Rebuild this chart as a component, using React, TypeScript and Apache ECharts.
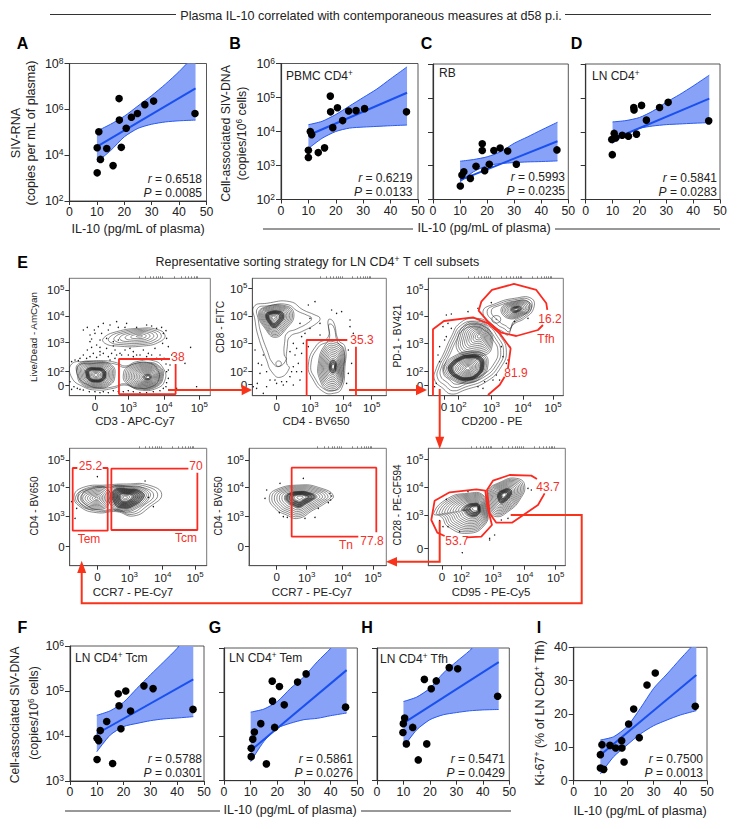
import React, { useEffect, useRef } from "react";
import * as echarts from "echarts";

const FONT = '"Liberation Sans", Arial, sans-serif';
const RED = "#fb2a20";
const ARROW = "#f8331a";
const BLUE = "#1a50ee";
const BAND = "#88a2f8";
const EDGE = "#2b5cf0";

// ---------- Correlation panels: IL-10 (pg/mL) vs. measures ----------
const il10A = [10.1, 10.1, 10.7, 11.3, 13.6, 15.9, 18.1, 18.2, 18.9, 20.7, 22.6, 24.8, 27.5, 30.7, 45.8];
const rnaA = [1700, 21000, 105000, 6500, 19500, 3500, 2950000, 340000, 22000, 150000, 450000, 660000, 1600000, 2300000, 660000];
const il10B = [10, 10, 10.7, 11.2, 13.6, 15.9, 18, 18.1, 18.9, 20.6, 22.5, 24.7, 27.4, 30.5, 45.8];
const dnaB = [1720, 2800, 10000, 8100, 2400, 3300, 110000, 38000, 13000, 50000, 21000, 40000, 41000, 47000, 38000];
const il10C = [10.1, 10.7, 11.4, 13.8, 15.9, 18.2, 18.2, 19.1, 20.8, 22.5, 24.8, 27.6, 30.8, 45.8];
const dnaC = [250, 525, 660, 420, 955, 4400, 2800, 710, 1100, 2800, 3300, 2700, 1100, 2900];
const il10D = [9.9, 9.7, 10.6, 11.2, 13.6, 15.9, 17.9, 18, 18.9, 20.8, 22.6, 27.5, 30.7, 45.8];
const dnaD = [2100, 5900, 8900, 6600, 7900, 7400, 52000, 44000, 8500, 60000, 22000, 52000, 74000, 21000];
const il10F = [10.1, 10.1, 10.7, 11.3, 13.7, 15.9, 18, 18.3, 19, 20.8, 22.6, 27.6, 31, 45.9];
const dnaF = [3000, 8900, 7900, 13200, 21000, 2450, 87000, 47000, 14500, 100000, 36000, 130000, 113000, 39000];
const il10G = [10.2, 10.2, 10.8, 11.4, 13.8, 15.9, 18.1, 18.2, 19, 20.8, 22.6, 27.6, 30.8, 45.6];
const dnaG = [3500, 5400, 8700, 12600, 19500, 2400, 178000, 63000, 16000, 135000, 52000, 170000, 260000, 46000];
const il10H = [9.8, 9.95, 10.45, 11.1, 13.5, 15.6, 17.9, 18.8, 20.5, 22.4, 27.3, 30.5, 45.6];
const dnaH = [12300, 19500, 26000, 6800, 16000, 2950, 195000, 6800, 120000, 180000, 360000, 340000, 81000];
const il10I = [10, 10, 10.6, 11.25, 13.6, 15.75, 18, 18.1, 18.9, 20.6, 22.5, 24.6, 27.5, 30.6, 45.6];
const ki67I = [3.8, 7.8, 10.8, 3.4, 10.6, 9.8, 12, 9.8, 5.6, 17, 21.5, 12.9, 28.7, 32.3, 22.3];

const bandX = [10, 15, 20, 25, 30, 35, 40, 46];
const upperA = [5.05, 5.35, 5.7, 6.15, 6.6, 7.1, 7.65, 8.4];
const lowerA = [3.7, 4.2, 4.8, 5.17, 5.35, 5.45, 5.5, 5.53];
const upperB = [4.2, 4.3, 4.5, 4.75, 5.0, 5.25, 5.55, 5.9];
const lowerB = [3.5, 3.8, 4.0, 4.1, 4.13, 4.15, 4.17, 4.19];
const upperC = [3.13, 3.18, 3.26, 3.41, 3.66, 3.85, 4.05, 4.28];
const lowerC = [2.52, 2.82, 3.0, 3.06, 3.09, 3.11, 3.12, 3.14];
const upperD = [4.29, 4.33, 4.42, 4.61, 4.87, 5.1, 5.35, 5.67];
const lowerD = [3.66, 3.93, 4.1, 4.17, 4.21, 4.23, 4.25, 4.27];
const upperF = [4.46, 4.56, 4.75, 5.06, 5.36, 5.65, 5.95, 6.4];
const lowerF = [3.65, 4.02, 4.21, 4.28, 4.34, 4.38, 4.4, 4.43];
const upperG = [4.55, 4.62, 4.79, 5.09, 5.35, 5.69, 5.99, 6.4];
const lowerG = [3.43, 3.89, 4.19, 4.3, 4.38, 4.41, 4.47, 4.53];
const upperH = [4.79, 4.89, 5.09, 5.43, 5.69, 5.94, 6.25, 6.7];
const lowerH = [3.76, 4.15, 4.38, 4.49, 4.54, 4.58, 4.6, 4.61];
const upperI = [12.2, 13.2, 16.2, 21.7, 27.7, 32, 36.5, 41.7];
const lowerI = [2, 7.2, 10.7, 14, 16.5, 18.2, 19.7, 21];

const fitA = [[10, 4.37], [46, 6.91]];
const fitB = [[10, 3.89], [46, 5.14]];
const fitC = [[10, 2.57], [46, 3.72]];
const fitD = [[10, 3.77], [46, 4.98]];
const fitF = [[10, 4.05], [46, 5.26]];
const fitG = [[10, 3.68], [46, 5.5]];
const fitH = [[10, 4.3], [46, 5.68]];
const fitI = [[10, 7.7], [46, 31.7]];

// ---------- Flow panels: all positions are display channels ----------
const dotsE1 = [[250,270],[262,262],[270,285],[283,270],[295,260],[300,300],[310,250],[330,255],[350,245],[355,262],[380,250],[410,262],[455,258],[470,265],[490,280],[500,295],[488,310],[465,325],[430,330],[400,335],[375,330],[345,330],[320,325],[300,335],[280,340],[262,330],[250,345],[235,362],[260,355],[290,352],[325,350],[335,340],[365,345],[445,340],[480,345],[505,320],[492,355],[515,345],[510,375],[500,395],[505,415],[498,440],[480,452],[440,458],[400,455],[370,455],[340,452],[310,455],[285,455],[250,450],[232,445],[215,448],[205,437],[572,322],[555,370],[590,440],[530,445],[275,297],[320,295],[340,305],[215,365],[225,360],[205,370],[270,305],[290,315],[355,300],[390,325],[420,345],[455,345],[470,355],[330,360],[345,355],[360,340],[385,345],[310,340],[240,355],[270,350],[300,345],[350,345],[400,350],[440,350],[485,360],[498,372],[505,390],[500,428],[490,445],[460,455],[420,458],[385,452],[355,455],[325,458],[300,458],[268,455],[240,448],[222,440],[210,425],[285,280],[305,280],[325,270],[375,262],[440,255],[485,262],[498,272],[340,318],[300,322],[275,322],[410,345]];
const dotsE2 = [[925,195],[945,185],[995,210],[1010,220],[960,250],[930,265],[905,290],[880,310],[885,345],[895,370],[890,395],[900,420],[905,340],[915,280],[925,320],[1050,260],[1060,280],[1045,330],[1055,370],[1045,400],[1040,430],[1050,240],[830,430],[800,440],[790,460],[775,370],[780,400],[790,345],[765,330],[772,430],[870,410],[860,425],[880,435],[810,420],[850,435],[1025,215],[960,285],[930,235],[770,445],[760,440],[880,380],[905,395],[900,250],[845,425],[825,420],[800,395],[785,375],[875,395],[870,335],[890,325],[910,310]];
const dotsE3 = [[235,225],[250,222],[300,215],[330,205],[370,188],[440,245],[480,235],[425,320],[400,320],[250,265],[235,290],[230,300],[215,320],[210,345],[200,440],[205,430],[175,440],[385,405],[350,425],[345,445],[330,440],[395,420],[225,260],[240,250],[420,360],[405,350],[215,365],[415,370],[375,420]];
const dotsE4 = [[292,200],[435,213],[225,325],[230,295],[215,275],[460,290],[445,262]];
const dotsE5 = [[840,220],[910,205],[800,240],[795,265],[838,308],[850,320],[862,322],[915,325],[945,322],[955,295],[990,250],[995,258],[985,278],[992,270]];
const dotsE6 = [[235,268],[300,245],[240,350],[275,365],[365,385],[380,375],[365,390],[283,428],[400,330],[420,325],[480,235],[490,240],[215,332],[225,350]];

const blobsE1 = [
  { c: [362, 408], o: [[215,372],[260,365],[310,362],[350,368],[375,378],[410,365],[460,362],[490,385],[495,420],[470,445],[420,450],[375,435],[340,445],[290,450],[250,440],[215,412]], n: 2, tmin: 0.86 },
  { c: [288, 405], o: [[235,372],[290,364],[335,375],[345,405],[330,435],[285,445],[245,432],[232,405]], n: 14, d: [0.36, 0.55, 9] },
  { c: [445, 412], o: [[385,380],[440,367],[480,380],[490,410],[470,440],[420,447],[380,430],[370,405]], n: 15, d: [0.1, 0.25, 3] },
  { c: [420, 288], o: [[310,295],[350,275],[420,265],[470,268],[495,285],[480,305],[430,318],[350,318],[315,310]], n: 7 },
];
const blobsE2 = [
  { c: [820, 232], o: [[762,200],[800,190],[870,185],[910,210],[945,225],[960,235],[950,250],[905,275],[870,290],[862,320],[860,370],[868,385],[840,412],[815,395],[800,360],[775,290],[765,240]], n: 2, tmin: 0.82 },
  { c: [820, 232], o: [[790,203],[860,198],[882,225],[860,265],[825,292],[795,265],[776,225]], n: 14, d: [0.3, 0.55, 9] },
  { c: [836, 371], o: [[830,365],[842,365],[842,377],[830,377]], n: 1 },
  { c: [1000, 380], o: [[985,240],[1000,245],[1015,300],[1035,320],[1035,380],[1025,445],[1000,460],[970,455],[940,420],[925,375],[950,315],[985,290]], n: 2, tmin: 0.9 },
  { c: [1000, 380], o: [[975,315],[1000,305],[1030,330],[1030,390],[1018,440],[985,450],[960,420],[955,370]], n: 13, d: [0.12, 0.3, 6] },
];
const blobsE3 = [
  { c: [310, 340], o: [[205,385],[225,345],[250,290],[275,250],[320,235],[365,250],[395,285],[415,330],[400,380],[355,425],[290,450],[250,462],[225,445],[200,420]], n: 4, tmin: 0.76 },
  { c: [335, 288], o: [[268,300],[290,255],[330,248],[365,270],[372,320],[350,345],[290,345],[268,330]], n: 11 },
  { c: [300, 385], o: [[232,370],[265,345],[300,335],[348,342],[360,375],[340,412],[295,430],[250,418],[226,390]], n: 14, d: [0.62, 0.82, 10] },
  { c: [445, 208], o: [[345,215],[385,190],[440,175],[490,175],[497,205],[470,235],[435,255],[420,285],[405,275],[380,260]], n: 3, tmin: 0.75 },
  { c: [445, 208], o: [[400,205],[440,185],[480,185],[490,205],[465,225],[420,235]], n: 10, d: [0.15, 0.4, 5] },
  { c: [385, 238], o: [[375,230],[395,230],[395,246],[375,246]], n: 2 },
];
const blobsE4 = [
  { c: [350, 265], o: [[222,258],[250,232],[320,225],[380,222],[445,225],[485,253],[450,290],[400,318],[350,305],[290,308],[240,290]], n: 3, tmin: 0.82 },
  { c: [290, 265], o: [[228,258],[260,238],[320,235],[325,285],[280,298],[240,285]], n: 9 },
  { c: [375, 262], o: [[330,235],[400,230],[440,240],[450,260],[410,295],[370,305],[335,290]], n: 12, d: [0.3, 0.8, 14] },
];
const blobsE5 = [
  { c: [900, 262], o: [[808,262],[830,238],[900,225],[955,232],[1000,257],[975,280],[940,300],[895,325],[860,315],[825,295]], n: 12, d: [0.22, 0.5, 12] },
];
const blobsE6 = [
  { c: [325, 295], o: [[197,310],[240,265],[300,250],[345,255],[360,300],[350,345],[300,370],[240,350],[220,320]], n: 15, d: [0.15, 0.35, 9] },
  { c: [408, 255], o: [[360,245],[400,215],[445,205],[470,225],[455,270],[420,305],[385,320],[365,300]], n: 14, d: [0.15, 0.4, 10] },
];

const gatesE1 = [[[510,357],[357,357],[357,462],[527,462],[527,372]]];
const gatesE2 = [[[1042,300],[920,300],[920,467]], [[1068,320],[1068,467]]];
const gatesE3 = [
  [[538,210],[535,190],[505,150],[438,132],[372,150],[340,185],[332,212],[360,245],[400,278],[445,288],[510,270],[525,255]],
  [[360,465],[395,435],[410,410]],
  [[420,385],[428,325],[395,280],[360,250],[315,232],[228,243],[195,268],[195,467]],
];
const gatesE4 = [
  [[232,174],[218,174],[218,362],[323,362],[323,174],[308,174]],
  [[565,176],[334,176],[334,360],[592,360],[592,188]],
];
const gatesE5 = [[[1075,380],[875,380],[875,173],[1129,173],[1129,367]]];
const gatesE6 = [
  [[230,378],[208,368],[190,330],[200,272],[245,247],[325,238],[352,242],[358,290],[372,345],[340,380],[295,382]],
  [[507,207],[490,197],[425,195],[375,212],[357,240],[365,310],[385,338],[432,338],[510,285],[530,250]],
];

const xTicksE1 = [[285,"0"],[385,"3"],[492,"4"],[598,"5"]];
const yTicksE1 = [[150,"5"],[228,"4"],[308,"3"],[395,"2"],[437,"0"]];
const xTicksE2 = [[830,"0"],[930,"3"],[1030,"4"],[1115,"5"]];
const yTicksE2 = [[145,"5"],[228,"4"],[310,"3"],[395,"2"],[432,"0"]];
const xTicksE3 = [[228,"0"],[270,"2"],[370,"3"],[465,"4"],[555,"5"]];
const yTicksE3 = [[148,"5"],[228,"4"],[310,"3"],[395,"2"],[437,"0"]];
const xTicksE4 = [[292,"0"],[388,"3"],[488,"4"],[585,"5"]];
const yTicksE4 = [[150,"5"],[232,"4"],[318,"3"],[408,"0"]];
const xTicksE5 = [[830,"0"],[920,"3"],[1028,"4"],[1119,"5"]];
const yTicksE5 = [[150,"5"],[232,"4"],[318,"3"],[408,"0"]];
const xTicksE6 = [[222,"0"],[280,"2"],[375,"3"],[470,"4"],[563,"5"]];
const yTicksE6 = [[148,"5"],[232,"4"],[315,"3"],[415,"0"]];

const axisRich = (size: number) => ({
  n: { fontSize: size, fontFamily: FONT, color: "#222" },
  s: { fontSize: size * 0.68, fontFamily: FONT, color: "#222", verticalAlign: "top", padding: [0, 0, size * 0.45, 0] },
});

const corr = [
  { box: [69.5, 63.5, 137, 137.5], x: il10A, y: rnaA, up: upperA, lo: lowerA, fit: fitA, yMin: 1e2, yMax: 1e8, yInt: 2, yLab: true },
  { box: [281, 63.5, 137, 136], x: il10B, y: dnaB, up: upperB, lo: lowerB, fit: fitB, yMin: 1e2, yMax: 1e6, yInt: 1, yLab: true },
  { box: [433, 64, 135.3, 135.5], x: il10C, y: dnaC, up: upperC, lo: lowerC, fit: fitC, yMin: 1e2, yMax: 1e6, yInt: 1, yLab: false },
  { box: [585.7, 64, 134.3, 135.5], x: il10D, y: dnaD, up: upperD, lo: lowerD, fit: fitD, yMin: 1e2, yMax: 1e6, yInt: 1, yLab: false },
  { box: [70, 646, 134, 135], x: il10F, y: dnaF, up: upperF, lo: lowerF, fit: fitF, yMin: 1e3, yMax: 1e6, yInt: 1, yLab: true },
  { box: [224, 648, 133.3, 132.7], x: il10G, y: dnaG, up: upperG, lo: lowerG, fit: fitG, yMin: 1e3, yMax: 1e6, yInt: 1, yLab: false },
  { box: [377, 648, 132.3, 132.7], x: il10H, y: dnaH, up: upperH, lo: lowerH, fit: fitH, yMin: 1e3, yMax: 1e6, yInt: 1, yLab: false },
  { box: [573.7, 647.3, 133.3, 133.4], x: il10I, y: ki67I, up: upperI, lo: lowerI, fit: fitI, yMin: 0, yMax: 40, yInt: 10, yLab: true, linear: true },
];

const flow = [
  { box: [69.3, 278.3, 141, 117.4], xr: [208, 631], yr: [115, 467], xt: xTicksE1, yt: yTicksE1, dots: dotsE1, blobs: blobsE1, gates: gatesE1 },
  { box: [252.3, 278.3, 134, 117.4], xr: [757, 1159], yr: [115, 467], xt: xTicksE2, yt: yTicksE2, dots: dotsE2, blobs: blobsE2, gates: gatesE2 },
  { box: [428.3, 278.3, 135, 117.4], xr: [181, 586], yr: [115, 467], xt: xTicksE3, yt: yTicksE3, dots: dotsE3, blobs: blobsE3, gates: gatesE3 },
  { box: [69.7, 448.3, 137, 117.4], xr: [209, 620], yr: [115, 467], xt: xTicksE4, yt: yTicksE4, dots: dotsE4, blobs: blobsE4, gates: gatesE4 },
  { box: [249, 448.3, 137.3, 117.4], xr: [747, 1159], yr: [115, 467], xt: xTicksE5, yt: yTicksE5, dots: dotsE5, blobs: blobsE5, gates: gatesE5 },
  { box: [428.3, 448.3, 137, 117.4], xr: [181, 592], yr: [115, 467], xt: xTicksE6, yt: yTicksE6, dots: dotsE6, blobs: blobsE6, gates: gatesE6 },
];

function ringScales(b: any) {
  const out: number[] = [];
  const tmin = b.tmin ?? 0.1;
  for (let i = 0; i < b.n; i++) out.push(b.n === 1 ? 1 : 1 - (i / (b.n - 1)) * (1 - tmin));
  if (b.d) for (let i = 0; i < b.d[2]; i++) out.push(b.d[0] + ((b.d[1] - b.d[0]) * i) / b.d[2]);
  return out;
}

function buildOption() {
  const grid: any[] = [], xAxis: any[] = [], yAxis: any[] = [], series: any[] = [];

  corr.forEach((p) => {
    const gi = grid.length;
    grid.push({ left: p.box[0], top: p.box[1], width: p.box[2], height: p.box[3], show: true, borderColor: "#444", borderWidth: 0.9 });
    const xi = xAxis.length, yi = yAxis.length;
    xAxis.push({
      gridIndex: gi, type: "value", min: 0, max: 50, interval: 10,
      axisLine: { show: true, onZero: false, lineStyle: { color: "#333", width: 1.2 } },
      axisTick: { show: true, length: 4, lineStyle: { color: "#333", width: 1 } },
      axisLabel: { show: true, margin: 5, fontSize: 12.3, fontFamily: FONT, color: "#222" },
      splitLine: { show: false },
    });
    yAxis.push({
      gridIndex: gi, type: p.linear ? "value" : "log", logBase: 10, min: p.yMin, max: p.yMax, interval: p.yInt,
      axisLine: { show: true, onZero: false, lineStyle: { color: "#333", width: 1.2 } },
      axisTick: { show: true, length: 5, lineStyle: { color: "#333", width: 1 } },
      axisLabel: {
        show: p.yLab, margin: 6, fontSize: 12.3, fontFamily: FONT, color: "#222", rich: axisRich(12.5),
        formatter: (v: number) => (p.linear ? String(v) : `{n|10}{s|${Math.round(Math.log10(v))}}`),
      },
      splitLine: { show: false }, minorTick: { show: false },
    });
    const conv = (e: number) => (p.linear ? e : Math.pow(10, e));
    series.push({
      type: "custom", xAxisIndex: xi, yAxisIndex: yi, clip: true, z: 2, silent: true,
      data: [[p.fit[0][0], conv(p.fit[0][1])]],
      renderItem: (_: any, api: any) => {
        const up = bandX.map((x, i) => api.coord([x, conv(p.up[i])]));
        const lo = bandX.map((x, i) => api.coord([x, conv(p.lo[i])]));
        const style = { fill: "none", stroke: EDGE, lineWidth: 1 };
        return {
          type: "group",
          children: [
            { type: "polygon", shape: { points: up.concat(lo.slice().reverse()) }, style: { fill: BAND } },
            { type: "polyline", shape: { points: up, smooth: 0.25 }, style },
            { type: "polyline", shape: { points: lo, smooth: 0.25 }, style },
          ],
        };
      },
    });
    series.push({
      type: "line", xAxisIndex: xi, yAxisIndex: yi, z: 3, symbol: "none", silent: true,
      data: p.fit.map((d) => [d[0], conv(d[1])]), lineStyle: { color: BLUE, width: 2 },
    });
    series.push({
      type: "scatter", xAxisIndex: xi, yAxisIndex: yi, z: 4, symbolSize: 7.6, silent: true,
      data: p.x.map((v, i) => [v, p.y[i]]), itemStyle: { color: "#000", opacity: 1 },
    });
  });

  flow.forEach((p) => {
    const gi = grid.length;
    grid.push({ left: p.box[0], top: p.box[1], width: p.box[2], height: p.box[3], show: true, borderColor: "#777", borderWidth: 1 });
    const xi = xAxis.length, yi = yAxis.length;
    const common = (ticks: any[]) => {
      const m = new Map(ticks.map((t) => [t[0], t[1]]));
      return {
        show: true, margin: 5, rich: axisRich(11.6), customValues: ticks.map((t) => t[0]),
        formatter: (v: number) => (m.get(v) === "0" ? "{n|0}" : `{n|10}{s|${m.get(v)}}`),
      };
    };
    const minors = (ticks: any[]) => {
      const res: number[] = [];
      const dec = ticks.filter((t) => t[1] !== "0");
      for (let i = 0; i + 1 < dec.length; i++)
        for (let k = 2; k < 10; k++) res.push(dec[i][0] + (dec[i + 1][0] - dec[i][0]) * Math.log10(k));
      return res;
    };
    const line = { show: true, onZero: false, lineStyle: { color: "#555", width: 1 } };
    xAxis.push({
      gridIndex: gi, type: "value", min: p.xr[0], max: p.xr[1], axisLine: line,
      axisTick: { show: true, length: 4, customValues: p.xt.map((t) => t[0]), lineStyle: { color: "#333" } },
      axisLabel: common(p.xt), splitLine: { show: false },
    });
    xAxis.push({
      gridIndex: gi, type: "value", min: p.xr[0], max: p.xr[1], axisLine: { show: false },
      axisTick: { show: true, length: 2, customValues: minors(p.xt), lineStyle: { color: "#555", width: 0.7 } },
      axisLabel: { show: false }, splitLine: { show: false },
    });
    yAxis.push({
      gridIndex: gi, type: "value", inverse: true, min: p.yr[0], max: p.yr[1], axisLine: line,
      axisTick: { show: true, length: 4, customValues: p.yt.map((t) => t[0]), lineStyle: { color: "#333" } },
      axisLabel: common(p.yt), splitLine: { show: false },
    });
    series.push({
      type: "custom", xAxisIndex: xi, yAxisIndex: yi, z: 2, silent: true, clip: true,
      data: [[p.xr[0], p.yr[0]]],
      renderItem: (_: any, api: any) => {
        const children: any[] = [];
        p.blobs.forEach((b: any) => {
          ringScales(b).forEach((t) => {
            const pts = b.o.map((q: number[]) =>
              api.coord([b.c[0] + (q[0] - b.c[0]) * t, b.c[1] + (q[1] - b.c[1]) * t])
            );
            children.push({ type: "polygon", shape: { points: pts, smooth: 0.5 }, style: { fill: "none", stroke: "#2a2a2a", lineWidth: 0.55 } });
          });
        });
        return { type: "group", children };
      },
    });
    series.push({
      type: "scatter", xAxisIndex: xi, yAxisIndex: yi, z: 1, symbolSize: 1.4, silent: true,
      data: p.dots, itemStyle: { color: "#111", opacity: 1 },
    });
    p.gates.forEach((g: number[][]) =>
      series.push({
        type: "line", xAxisIndex: xi, yAxisIndex: yi, z: 5, symbol: "none", silent: true, clip: false,
        data: g, lineStyle: { color: RED, width: 1.8 },
      })
    );
  });

  const g: any[] = [];
  const text = (x: number, y: number, s: string, o: any = {}) => {
    const size = o.size ?? 12;
    g.push({
      type: "text", x, y, rotation: o.rot ?? 0, z: 20, silent: true,
      style: {
        text: s, fill: o.fill ?? "#222", fontSize: size, fontFamily: FONT, fontWeight: o.bold ? "bold" : "normal",
        align: o.align ?? "center", verticalAlign: "middle",
        rich: {
          n: { fontSize: size, fontFamily: FONT, fill: o.fill ?? "#222" },
          i: { fontSize: size, fontFamily: FONT, fontStyle: "italic", fill: o.fill ?? "#222" },
          s: { fontSize: size * 0.68, fontFamily: FONT, fill: o.fill ?? "#222", verticalAlign: "top", padding: [0, 0, size * 0.45, 0] },
        },
      },
    });
  };
  const rule = (x1: number, x2: number, y: number) =>
    g.push({ type: "line", silent: true, z: 20, shape: { x1, y1: y, x2, y2: y }, style: { stroke: "#333", lineWidth: 1 } });

  rule(50, 176, 14.5); rule(565, 711, 14.5);
  text(371, 15.5, "Plasma IL-10 correlated with contemporaneous measures at d58 p.i.", { size: 12.6 });
  [["A", 22.5, 43], ["B", 235, 43], ["C", 426.5, 43], ["D", 576.5, 43], ["E", 22.5, 262], ["F", 22.5, 627], ["G", 215, 627], ["H", 367, 627], ["I", 539, 627]].forEach(
    (l: any) => text(l[1], l[2], l[0], { size: 16, bold: true, fill: "#000" })
  );

  text(16, 133, "SIV-RNA", { rot: Math.PI / 2, size: 12.6 });
  text(31, 133, "(copies per mL of plasma)", { rot: Math.PI / 2, size: 12.6 });
  text(138, 229, "IL-10 (pg/mL of plasma)", { size: 12.6 });
  text(226, 133.5, "Cell-associated SIV-DNA", { rot: Math.PI / 2, size: 12.3 });
  text(242, 133.5, "{n|(copies/10}{s|6}{n| cells)}", { rot: Math.PI / 2, size: 12.3 });
  rule(263, 413, 229); rule(555, 720, 229);
  text(484, 227.5, "IL-10 (pg/mL of plasma)", { size: 12.6 });
  text(286, 76, "{n|PBMC CD4}{s|+}", { align: "left", size: 12 });
  text(439, 73, "RB", { align: "left", size: 12 });
  text(592, 76, "{n|LN CD4}{s|+}", { align: "left", size: 12 });

  const stat = (x: number, y: number, r: string, pv: string) => {
    text(x, y, `{i|r}{n| = ${r}}`, { align: "right", size: 12 });
    text(x, y + 14, `{i|P}{n| = ${pv}}`, { align: "right", size: 12 });
  };
  stat(202, 179, "0.6518", "0.0085");
  stat(412.5, 178, "0.6219", "0.0133");
  stat(565, 177, "0.5993", "0.0235");
  stat(717, 178, "0.5841", "0.0283");
  stat(202, 759, "0.5788", "0.0301");
  stat(353, 759, "0.5861", "0.0276");
  stat(505, 759, "0.5471", "0.0429");
  stat(703, 759, "0.7500", "0.0013");

  text(15, 715, "Cell-associated SIV-DNA", { rot: Math.PI / 2, size: 12.3 });
  text(34, 713, "{n|(copies/10}{s|6}{n| cells)}", { rot: Math.PI / 2, size: 12.3 });
  text(540, 713, "{n|Ki-67}{s|+}{n| (% of LN CD4}{s|+}{n| Tfh)}", { rot: Math.PI / 2, size: 12.5 });
  text(75, 658, "{n|LN CD4}{s|+}{n| Tcm}", { align: "left", size: 12 });
  text(229, 658, "{n|LN CD4}{s|+}{n| Tem}", { align: "left", size: 12 });
  text(380, 659, "{n|LN CD4}{s|+}{n| Tfh}", { align: "left", size: 12 });
  rule(65, 220, 811); rule(361, 511, 811);
  text(290, 810, "IL-10 (pg/mL of plasma)", { size: 12.6 });
  text(640, 811, "IL-10 (pg/mL of plasma)", { size: 12.6 });

  text(317.5, 262, "{n|Representative sorting strategy for LN CD4}{s|+}{n| T cell subsets}", { size: 12.5 });

  const at = (s: string, x: number, y: number, o: any = {}) => text(x, y, s, { size: 11.4, ...o });
  at("Live/Dead - AmCyan", 33, 337, { rot: Math.PI / 2, size: 9.8 });
  at("CD3 - APC-Cy7", 135, 421);
  at("CD8 - FITC", 220, 327, { rot: Math.PI / 2, size: 10.2 });
  at("CD4 - BV650", 316, 421);
  at("PD-1 - BV421", 397, 336, { rot: Math.PI / 2, size: 10.2 });
  at("CD200 - PE", 492, 421);
  at("CD4 - BV650", 34, 506, { rot: Math.PI / 2, size: 10 });
  at("CCR7 - PE-Cy7", 133, 591.7);
  at("CD4 - BV650", 218, 506, { rot: Math.PI / 2, size: 10 });
  at("CCR7 - PE-Cy7", 312, 591.7);
  at("CD28 - PE-CF594", 397, 505, { rot: Math.PI / 2, size: 10 });
  at("CD95 - PE-Cy5", 491, 591.7);

  const gl = (s: string, x: number, y: number) => text(x, y, s, { size: 12, fill: "#f5302a" });
  gl("38", 178, 357);
  gl("35.3", 362, 340);
  gl("16.2", 550, 319);
  gl("Tfh", 546, 338.5);
  gl("81.9", 516, 372.5);
  gl("25.2", 90.5, 466);
  gl("Tem", 89, 539);
  gl("70", 196, 466);
  gl("Tcm", 186, 538);
  gl("Tn", 346, 545);
  gl("77.8", 372, 540.5);
  gl("53.7", 457, 541);
  gl("43.7", 548, 487);

  const poly = (pts: number[][]) =>
    g.push({ type: "polyline", silent: true, z: 21, shape: { points: pts }, style: { stroke: ARROW, lineWidth: 2, fill: "none" } });
  const head = (pts: number[][]) =>
    g.push({ type: "polygon", silent: true, z: 21, shape: { points: pts }, style: { fill: ARROW } });
  poly([[168, 390], [243, 390]]); head([[241.7, 384.7], [252, 390], [241.7, 395.3]]);
  poly([[349, 390], [417, 390]]); head([[416, 384.7], [427, 390], [416, 395.3]]);
  poly([[439.7, 389], [439.7, 438]]); head([[435.2, 436.7], [444.2, 436.7], [439.7, 449]]);
  poly([[439.7, 520.7], [439.7, 561.7], [397, 561.7]]); head([[397, 557], [397, 566.4], [386, 561.7]]);
  poly([[510.7, 515], [581.7, 515], [581.7, 603.3], [81.7, 603.3], [81.7, 571]]); head([[77.2, 573], [86.2, 573], [81.7, 560.7]]);

  return { animation: false, backgroundColor: "#fff", textStyle: { fontFamily: FONT }, grid, xAxis, yAxis, series, graphic: { elements: g } };
}

export default function App() {
  const ref = useRef<HTMLDivElement>(null);
  useEffect(() => {
    const chart = echarts.init(ref.current!, null, { renderer: "svg" });
    chart.setOption(buildOption() as any);
    return () => chart.dispose();
  }, []);
  return <div ref={ref} style={{ position: "absolute", left: 0, top: 0, width: 738, height: 829 }} />;
}
